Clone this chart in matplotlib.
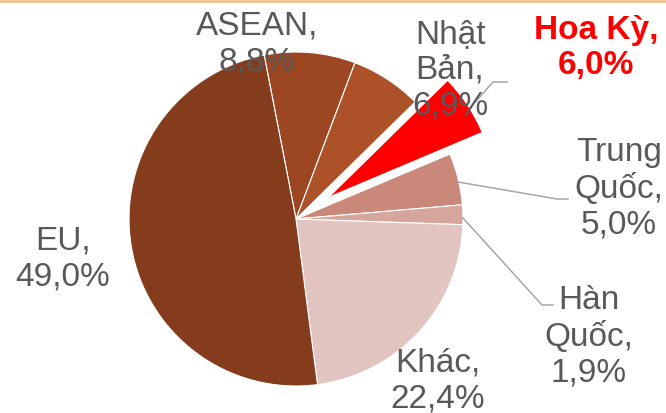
import matplotlib.pyplot as plt

# Datos (orden horario desde el borde superior)
labels = ['ASEAN', 'Nhật\nBản', 'Hoa Kỳ', 'Trung\nQuốc', 'Hàn\nQuốc', 'Khác', 'EU']
values = [8.8, 6.9, 6.0, 5.0, 1.9, 22.4, 49.0]
colors = ['#9C4622', '#AD5129', '#FF0000', '#C9887A', '#D6A69C', '#E2C5C0', '#843C1C']

W, H = 666, 413

def py(y):
    # coordenada de píxel (desde arriba) a coordenada de datos
    return H - y

fig = plt.figure(figsize=(W / 100, H / 100), dpi=100)
ax = fig.add_axes([0, 0, 1, 1])
ax.set_xlim(0, W)
ax.set_ylim(0, H)
ax.axis('off')

explode = [0, 0, 39, 0, 0, 0, 0]
ax.pie(values, colors=colors, startangle=101, counterclock=False,
       center=(296, py(219)), radius=167, explode=explode,
       wedgeprops=dict(edgecolor='white', linewidth=0.8))
ax.set_xlim(0, W)
ax.set_ylim(0, H)

# etiquetas: texto "nombre,\nvalor%"
label_pos = [(257, 44), (450, 70), (596, 48), (619, 189), (589, 337), (438, 381), (63, 259)]
for lab, v, (x, y) in zip(labels, values, label_pos):
    txt = f"{lab},\n{v:.1f}%".replace('.', ',')
    if lab == 'Hoa Kỳ':
        ax.text(x, py(y), txt, ha='center', va='center', fontsize=24,
                color='#FF0000', fontweight='bold', family='Liberation Sans')
    else:
        ax.text(x, py(y), txt, ha='center', va='center', fontsize=24,
                color='#595959', family='Liberation Sans')

# líneas guía
leaders = [
    [(507, 82), (493, 82), (470, 108)],
    [(458, 182), (557, 199), (568, 199)],
    [(463, 218), (542, 305), (553, 305)],
]
for pts in leaders:
    ax.plot([p[0] for p in pts], [py(p[1]) for p in pts], color='#A6A6A6', lw=1.1)

# borde superior naranja
ax.axhline(H - 1, color='#F5C08E', lw=2)

fig.savefig('out.png', dpi=100)
